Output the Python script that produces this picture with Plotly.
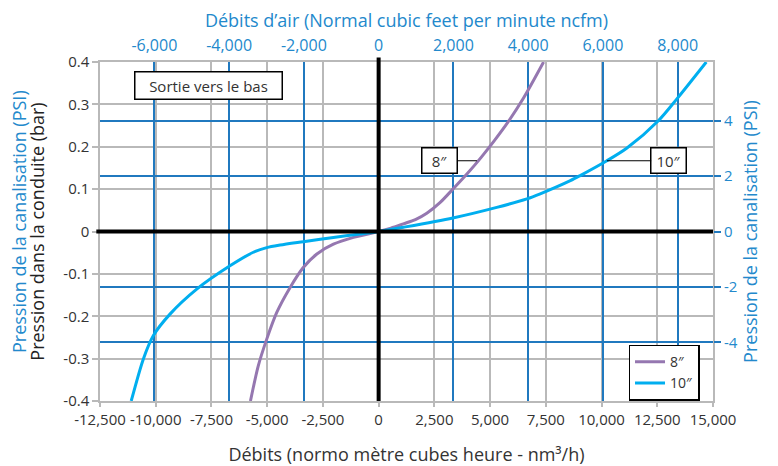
import plotly.graph_objects as go

# ---------------- data ----------------
flow_8_nm3h = [-5750, -5400, -5020, -4570, -3970, -3380, -2770, -2030, -1130, 0,
               550, 1110, 1650, 2160, 2750, 3330, 4000, 4600, 5200, 5800, 6500, 7400]
pres_8_bar = [-0.400, -0.317, -0.254, -0.191, -0.132, -0.085, -0.053, -0.030, -0.014, 0.0,
              0.008, 0.018, 0.028, 0.043, 0.068, 0.100, 0.138, 0.175, 0.215, 0.258, 0.315, 0.400]

flow_10_nm3h = [-11100, -10550, -10110, -9360, -8160, -6670, -5620, -5020, -4420, -3380,
                -2030, -830, 0, 1110, 3330, 5300, 6650, 7250, 8600, 9040, 10240, 11140,
                12560, 13380, 14700]
pres_10_bar = [-0.400, -0.300, -0.246, -0.195, -0.136, -0.081, -0.049, -0.038, -0.032, -0.024,
               -0.014, -0.006, 0.0, 0.010, 0.032, 0.057, 0.077, 0.089, 0.120, 0.132, 0.167, 0.197,
               0.262, 0.313, 0.400]

series_names = ["8″", "10″"]

x_ticks = [-12500, -10000, -7500, -5000, -2500, 0, 2500, 5000, 7500, 10000, 12500, 15000]
x_ticklabels = ["-12,500", "-10,000", "-7,500", "-5,000", "-2,500", "0", "2,500", "5,000",
                "7,500", "10,000", "12,500", "15,000"]
ncfm_ticks = [-6000, -4000, -2000, 0, 2000, 4000, 6000, 8000]
ncfm_ticklabels = ["-6,000", "-4,000", "-2,000", "0", "2,000", "4,000", "6,000", "8,000"]
bar_ticks = [-0.4, -0.3, -0.2, -0.1, 0, 0.1, 0.2, 0.3, 0.4]
bar_ticklabels = ["-0.4", "-0.3", "-0.2", "-0.1", "0", "0.1", "0.2", "0.3", "0.4"]
psi_ticks = [-4, -2, 0, 2, 4]
psi_ticklabels = ["-4", "-2", "0", "2", "4"]

X_RANGE = [-12500, 15000]
Y_RANGE = [-0.4, 0.4]
NM3H_PER_CFM = 1.677
PSI_PER_BAR = 15.3

# ---------------- style ----------------
FONT = "Open Sans"
BLUE_TXT = "#2389cc"
BLUE_GRID = "#2079bf"
GRAY_GRID = "#b9b9b9"
PURPLE = "#9577b0"
CYAN = "#00aeef"
DARK = "#333333"

fig = go.Figure()
fig.add_trace(go.Scatter(x=flow_8_nm3h, y=pres_8_bar, mode="lines", name=series_names[0],
                         line=dict(color=PURPLE, width=3, shape="spline", smoothing=0.8)))
fig.add_trace(go.Scatter(x=flow_10_nm3h, y=pres_10_bar, mode="lines", name=series_names[1],
                         line=dict(color=CYAN, width=3, shape="spline", smoothing=0.8)))
# invisible helpers so the secondary axes exist
fig.add_trace(go.Scatter(x=[X_RANGE[0] / NM3H_PER_CFM], y=[0], xaxis="x2", yaxis="y",
                         mode="markers", marker=dict(opacity=0), showlegend=False, hoverinfo="skip"))
fig.add_trace(go.Scatter(x=[0], y=[0], xaxis="x", yaxis="y2",
                         mode="markers", marker=dict(opacity=0), showlegend=False, hoverinfo="skip"))

# the page body has an 8px margin, so the figure is drawn 8px smaller and offset
fig.update_layout(
    width=770, height=458,
    margin=dict(l=92, r=65, t=54, b=65),
    paper_bgcolor="white", plot_bgcolor="white",
    font=dict(family=FONT, color=DARK, size=15),
    xaxis=dict(
        range=X_RANGE, tickvals=x_ticks, ticktext=x_ticklabels, automargin=False,
        showgrid=True, gridcolor=GRAY_GRID, gridwidth=1.5, zeroline=False,
        showline=True, linecolor=GRAY_GRID, linewidth=1.5, mirror=True,
        ticks="outside", ticklen=4, tickcolor=GRAY_GRID, tickwidth=1.5,
        tickfont=dict(size=15, color=DARK),
        title=dict(text="Débits (normo mètre cubes heure - nm³/h)",
                   font=dict(size=18, color=DARK), standoff=22),
    ),
    xaxis2=dict(
        overlaying="x", side="top", anchor="y", automargin=False,
        range=[X_RANGE[0] / NM3H_PER_CFM, X_RANGE[1] / NM3H_PER_CFM],
        tickvals=ncfm_ticks, ticktext=ncfm_ticklabels,
        showgrid=True, gridcolor=BLUE_GRID, gridwidth=1.5, zeroline=False,
        showline=False, ticks="outside", ticklen=4, tickcolor="rgba(0,0,0,0)",
        tickfont=dict(size=16, color=BLUE_TXT),
        title=dict(text="Débits d’air (Normal cubic feet per minute ncfm)",
                   font=dict(size=18, color=BLUE_TXT), standoff=12),
    ),
    yaxis=dict(
        range=Y_RANGE, tickvals=bar_ticks, ticktext=bar_ticklabels, automargin=False,
        showgrid=True, gridcolor=GRAY_GRID, gridwidth=1.5, zeroline=False,
        showline=True, linecolor=GRAY_GRID, linewidth=1.5, mirror=True,
        ticks="outside", ticklen=6, tickcolor=GRAY_GRID, tickwidth=1.5,
        tickfont=dict(size=15, color=DARK),
        title=dict(text="Pression dans la conduite (bar)", font=dict(size=18, color="#222222"),
                   standoff=14),
    ),
    yaxis2=dict(
        overlaying="y", side="right", anchor="x", automargin=False,
        range=[Y_RANGE[0] * PSI_PER_BAR, Y_RANGE[1] * PSI_PER_BAR],
        tickvals=psi_ticks, ticktext=psi_ticklabels,
        showgrid=True, gridcolor=BLUE_GRID, gridwidth=1.5, zeroline=False,
        showline=False, ticks="outside", ticklen=7, tickcolor=BLUE_GRID, tickwidth=1.5,
        tickfont=dict(size=15, color=BLUE_TXT),
        title=dict(text="Pression de la canalisation (PSI)", font=dict(size=18, color=BLUE_TXT),
                   standoff=6),
    ),
    legend=dict(
        x=0.978, xanchor="right", y=0.166, yanchor="top",
        bgcolor="white", bordercolor="black", borderwidth=1.5,
        font=dict(size=14, color=DARK), tracegroupgap=0,
    ),
    showlegend=True,
)

# thick black zero axes
fig.add_shape(type="line", xref="x", yref="paper", x0=0, x1=0, y0=0, y1=1.013,
              line=dict(color="black", width=4), layer="above")
fig.add_shape(type="line", xref="paper", yref="y", x0=-0.006, x1=1, y0=0, y1=0,
              line=dict(color="black", width=4), layer="above")

# second left title (PSI, blue)
fig.add_annotation(text="Pression de la canalisation (PSI)", xref="paper", yref="paper",
                   x=-0.131, y=0.53, textangle=-90, showarrow=False,
                   font=dict(size=18, color=BLUE_TXT), xanchor="center", yanchor="middle")

# label boxes
fig.add_annotation(text="Sortie vers le bas", xref="x", yref="y", x=-7630, y=0.345,
                   showarrow=False, bgcolor="white", bordercolor="black", borderwidth=1.5,
                   borderpad=3, width=140, font=dict(size=15, color=DARK))
fig.add_annotation(text="8″", xref="x", yref="y", x=4410, y=0.167, ax=-37, ay=0,
                   showarrow=True, arrowhead=0, arrowwidth=1.2, arrowcolor="black",
                   bgcolor="white", bordercolor="black", borderwidth=1.5, borderpad=2,
                   width=30, font=dict(size=15, color=DARK))
fig.add_annotation(text="10″", xref="x", yref="y", x=10240, y=0.167, ax=62, ay=0,
                   showarrow=True, arrowhead=0, arrowwidth=1.2, arrowcolor="black",
                   bgcolor="white", bordercolor="black", borderwidth=1.5, borderpad=2,
                   width=30, font=dict(size=15, color=DARK))

fig.write_html("out.html")
